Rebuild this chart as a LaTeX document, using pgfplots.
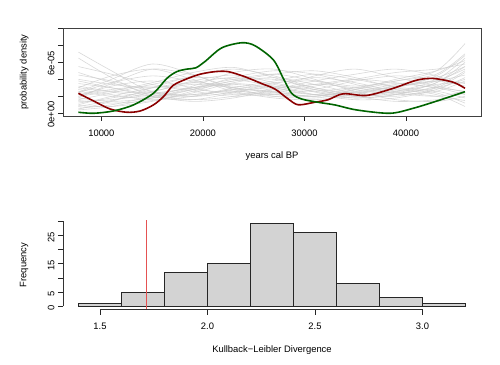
\documentclass[border=0pt]{standalone}
\usepackage{pgfplots}
\usepackage{pgfplotstable}
\pgfplotsset{compat=1.18}
\usepackage{fontspec}
\setmainfont{Liberation Sans}
\definecolor{dgreen}{HTML}{006400}
\definecolor{dred}{HTML}{8B0000}
\definecolor{lgray}{HTML}{D3D3D3}
\definecolor{vred}{rgb}{0.90,0.32,0.32}
\definecolor{gline}{rgb}{0.80,0.80,0.80}

\pgfplotstableread{
yr c1 c2 c3 c4 c5 c6 c7 c8 c9 c10 c11 c12 c13 c14 c15 c16 c17 c18 c19 c20 c21 c22 c23 c24 c25 c26 c27 c28 c29 c30
7740 3.0 1.2 2.0 0.8 4.5 6.5 7.2 1.8 2.5 0.4 3.5 1.5 2.8 0.6 4.0 2.2 5.5 1.0 3.2 1.6 0.5 2.6 3.8 1.4 2.4 0.9 3.0 1.8 4.8 2.0
11000 2.5 1.8 3.2 1.5 3.8 4.2 5.0 3.5 4.0 0.8 3.0 1.2 2.2 1.0 3.4 2.8 4.6 2.0 2.6 2.4 1.4 2.0 3.0 1.6 3.6 0.8 4.4 1.4 3.6 2.6
15000 2.0 2.6 3.8 2.5 2.6 2.0 2.5 5.2 5.8 1.8 2.2 1.5 1.6 2.0 3.0 3.2 3.4 3.0 2.4 3.4 3.0 1.8 2.0 2.2 4.4 1.4 5.2 1.8 2.4 3.6
19000 2.8 3.4 3.0 3.8 2.0 1.6 2.0 4.5 4.6 3.0 1.6 2.4 2.0 3.2 3.6 2.6 2.8 3.6 3.0 4.2 4.4 2.2 1.4 3.0 3.8 2.6 4.0 2.8 2.2 4.8
23000 3.5 3.0 2.2 4.5 2.5 2.4 2.8 3.0 2.8 4.0 2.0 3.6 3.0 4.8 4.2 2.0 2.4 3.2 3.8 4.0 5.2 2.8 1.8 3.4 3.0 3.8 2.6 4.2 2.6 5.4
27000 3.0 2.4 2.6 3.6 3.5 3.2 2.5 2.0 2.2 4.6 3.0 4.2 3.8 5.2 3.4 2.4 2.0 2.8 4.6 3.2 4.4 3.6 2.8 3.0 2.6 4.0 1.8 5.0 2.2 4.2
31000 2.2 2.0 3.4 2.5 4.2 2.8 2.0 1.8 2.8 3.8 4.4 3.4 4.6 4.0 2.6 3.2 2.2 2.6 5.0 2.2 3.0 3.8 3.8 3.4 2.2 3.0 1.6 4.6 2.0 2.8
35000 2.5 2.8 3.0 1.8 3.6 2.0 2.6 2.4 3.8 2.8 5.2 2.4 4.0 2.6 2.0 4.0 3.0 3.0 4.2 1.6 2.2 3.2 4.6 4.0 1.8 2.4 2.2 3.4 2.8 2.0
39000 3.2 3.5 2.4 2.2 2.6 2.4 3.4 3.0 4.4 2.2 4.2 2.0 3.2 1.6 2.6 4.8 3.8 2.8 3.0 1.8 2.6 3.8 5.2 3.6 2.2 3.0 3.2 2.4 4.0 1.4
43000 3.8 3.0 3.0 3.2 2.0 3.6 4.2 2.6 4.0 2.6 3.2 3.0 4.0 1.4 3.8 5.2 4.6 2.2 2.4 2.8 3.4 5.0 4.4 3.0 3.6 4.4 3.8 2.0 5.0 1.6
45810 4.5 2.2 4.0 5.0 1.5 6.0 5.5 1.8 3.5 3.8 2.5 4.8 6.5 2.0 5.2 5.8 7.0 0.8 1.2 4.2 3.6 8.2 3.0 2.6 5.5 6.8 3.2 2.6 6.2 2.4
}\graydata

\begin{document}
\begin{tikzpicture}[font=\fontsize{9.4}{11}\selectfont]
\path[use as bounding box] (0,0) rectangle (500pt,364pt);
% ---------- top panel ----------
\begin{axis}[
  at={(63pt,248pt)}, anchor=south west,
  width=418pt, height=88pt, scale only axis,
  xmin=6220, xmax=47390, ymin=-0.32, ymax=10.04,
  scaled x ticks=false, scaled y ticks=false,
  xtick={10000,20000,30000,40000}, xticklabels={10000,20000,30000,40000},
  ytick={0,2,4,6,8,10}, yticklabels={0e+00,,,6e-05,,},
  tick align=outside, major tick length=5pt,
  xtick pos=left, ytick pos=left,
  tick style={black!85, line width=0.6pt},
  axis line style={black!75, line width=0.8pt},
  xticklabel style={anchor=north, yshift=-5pt},
  yticklabel style={rotate=90, anchor=south, xshift=-1pt},
  xlabel={years cal BP}, ylabel={probability density},
  xlabel style={at={(axis description cs:0.5,-0.455)}, anchor=center},
  ylabel style={at={(axis description cs:-0.093,0.5)}, anchor=center, rotate=0},
  /pgf/number format/assume math mode=true,
  clip=true,
]
\pgfplotsinvokeforeach{1,...,30}{
  \addplot[smooth, gline, opacity=0.75, line width=0.6pt] table[x=yr, y=c#1] {\graydata};
}
\addplot[smooth, tension=0.5, dred, line width=1.6pt] coordinates {
(7740,2.35)(9230,1.45)(10870,0.5)(12510,0.12)(13820,0.27)(15120,0.98)(16110,1.95)(17090,3.3)(18410,4.05)(19720,4.6)(21190,4.9)(22500,4.9)(24140,4.3)(25780,3.5)(27090,2.86)(28400,1.68)(29390,1.0)(31030,1.3)(32340,1.6)(33830,2.3)(36130,2.1)(38750,2.94)(41050,3.9)(42690,4.1)(44660,3.65)(45810,2.94)};
\addplot[smooth, tension=0.5, dgreen, line width=1.6pt] coordinates {
(7740,0.12)(9230,0.0)(11180,0.27)(13150,0.98)(15120,2.35)(16440,4.1)(17420,4.9)(18410,5.2)(19300,5.35)(20210,6.1)(21850,7.7)(23820,8.3)(25130,7.95)(26930,6.3)(27920,4.1)(28740,2.35)(29730,1.68)(31370,1.29)(33010,0.98)(35150,0.39)(38430,0.0)(40720,0.59)(43350,1.56)(45810,2.54)};
\end{axis}
% ---------- bottom panel ----------
\begin{axis}[
  at={(63pt,54.4pt)}, anchor=south west,
  width=418pt, height=89.2pt, scale only axis,
  xmin=1.328, xmax=3.272, ymin=-1.16, ymax=30.16,
  axis x line=bottom, axis y line=left,
  axis line style={draw=none},
  xtick={1.5,2,2.5,3}, xticklabels={1.5,2.0,2.5,3.0},
  ytick={0,5,10,15,20,25,30}, yticklabels={0,5,,15,,25,},
  tick align=outside, major tick length=5pt,
  tick style={black!85, line width=0.6pt},
  xticklabel style={anchor=north, yshift=-5pt},
  yticklabel style={rotate=90, anchor=south, xshift=-2pt},
  xlabel={Kullback−Leibler Divergence}, ylabel={Frequency},
  xlabel style={at={(axis description cs:0.5,-0.454)}, anchor=center},
  ylabel style={at={(axis description cs:-0.093,0.5)}, anchor=center, rotate=0},
  /pgf/number format/assume math mode=true,
  clip=false,
]
\addplot[ybar interval, fill=lgray, draw=black!85, line width=0.7pt] coordinates {
(1.4,1)(1.6,5)(1.8,12)(2.0,15)(2.2,29)(2.4,26)(2.6,8)(2.8,3)(3.0,1)(3.2,1)};
\addplot[vred, line width=1.2pt] coordinates {(1.717,-1.16)(1.717,30.16)};
\draw[black!80, line width=0.7pt] (axis cs:1.5,-1.16) -- (axis cs:3,-1.16);
\draw[black!80, line width=0.7pt] (axis cs:1.328,0) -- (axis cs:1.328,30);
\end{axis}
\end{tikzpicture}
\end{document}
